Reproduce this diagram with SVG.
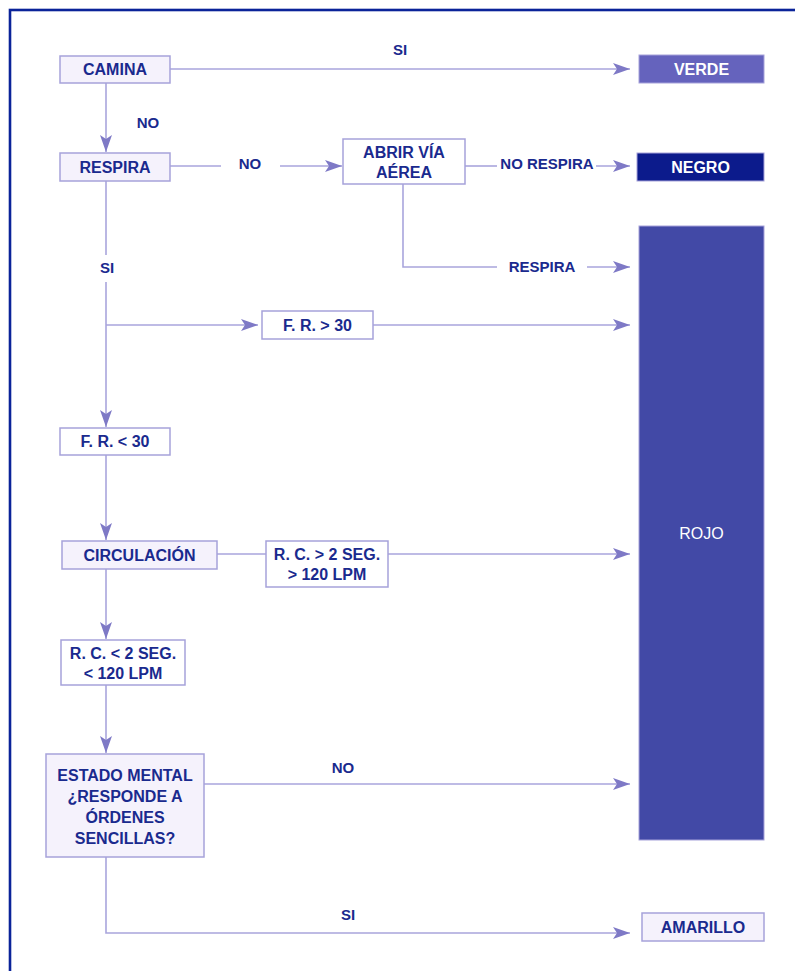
<svg xmlns="http://www.w3.org/2000/svg" width="795" height="971" viewBox="0 0 795 971">
<style>
.box{fill:#ffffff;stroke:#a6a2da;stroke-width:1.5}
.lav{fill:#f5f2fc}
.t{font-family:"Liberation Sans",Arial,sans-serif;font-weight:bold;font-size:16px;fill:#1a2a8e;text-anchor:middle}
.l{font-size:15px}
.w{fill:#ffffff}
.c{fill:none;stroke:#a9a5dc;stroke-width:1.6}
</style>
<defs>
<marker id="ah" markerUnits="userSpaceOnUse" markerWidth="18" markerHeight="12" refX="17" refY="6" orient="auto">
<path d="M0,0 L17,6 L0,12 L4,6 Z" fill="#7e79c6"/>
</marker>
</defs>
<rect x="10" y="10" width="800" height="980" fill="#ffffff" stroke="#0a2399" stroke-width="2.6"/>

<g id="connectors">
<path class="c" d="M170,69 H630" marker-end="url(#ah)"/>
<path class="c" d="M106,83 V152" marker-end="url(#ah)"/>
<path class="c" d="M170,166 H221"/>
<path class="c" d="M280,166 H342" marker-end="url(#ah)"/>
<path class="c" d="M465,166 H497"/>
<path class="c" d="M596,166 H630" marker-end="url(#ah)"/>
<path class="c" d="M403,184 V267 H497"/>
<path class="c" d="M587,267 H630" marker-end="url(#ah)"/>
<path class="c" d="M106,181 V255"/>
<path class="c" d="M106,282 V427" marker-end="url(#ah)"/>
<path class="c" d="M106,325 H258" marker-end="url(#ah)"/>
<path class="c" d="M373,325 H630" marker-end="url(#ah)"/>
<path class="c" d="M106,455 V540" marker-end="url(#ah)"/>
<path class="c" d="M217,554 H266"/>
<path class="c" d="M388,554 H630" marker-end="url(#ah)"/>
<path class="c" d="M106,569 V639" marker-end="url(#ah)"/>
<path class="c" d="M106,685 V753" marker-end="url(#ah)"/>
<path class="c" d="M204,784 H630" marker-end="url(#ah)"/>
<path class="c" d="M106,857 V933 H630" marker-end="url(#ah)"/>
<text class="t l" x="400" y="55">SI</text>
<text class="t l" x="148" y="128">NO</text>
<text class="t l" x="250" y="169">NO</text>
<text class="t l" x="547" y="169">NO RESPIRA</text>
<text class="t l" x="542" y="272">RESPIRA</text>
<text class="t l" x="107" y="273">SI</text>
<text class="t l" x="343" y="773">NO</text>
<text class="t l" x="348" y="920">SI</text>
</g>

<g id="camina"><rect class="box lav" x="60" y="56" width="110" height="27"/><text class="t" x="115" y="75">CAMINA</text></g>
<g id="verde"><rect x="639" y="55" width="125" height="28" fill="#6563bd" stroke="#a6a2da" stroke-width="1"/><text class="t w" x="701.5" y="75">VERDE</text></g>
<g id="respira"><rect class="box lav" x="60" y="153" width="110" height="28"/><text class="t" x="115" y="173">RESPIRA</text></g>
<g id="abrir"><rect class="box" x="343" y="139" width="122" height="45"/><text class="t" x="404" y="158">ABRIR VÍA</text><text class="t" x="404" y="178">AÉREA</text></g>
<g id="negro"><rect x="637" y="153" width="127" height="28" fill="#0c1b8c" stroke="#a6a2da" stroke-width="1"/><text class="t w" x="700.5" y="173">NEGRO</text></g>
<g id="rojo"><rect x="639" y="226" width="125" height="614" fill="#4249a6" stroke="#a6a2da" stroke-width="1"/><text class="t w" x="701.5" y="539" style="font-weight:normal">ROJO</text></g>
<g id="fr-mayor"><rect class="box" x="262" y="311" width="111" height="28"/><text class="t" x="317.5" y="331">F. R. &gt; 30</text></g>
<g id="fr-menor"><rect class="box" x="60" y="428" width="110" height="27"/><text class="t" x="115" y="447">F. R. &lt; 30</text></g>
<g id="circulacion"><rect class="box lav" x="62" y="541" width="155" height="28"/><text class="t" x="139.5" y="561">CIRCULACIÓN</text></g>
<g id="rc-mayor"><rect class="box" x="266" y="541" width="122" height="46"/><text class="t" x="327" y="560">R. C. &gt; 2 SEG.</text><text class="t" x="327" y="580">&gt; 120 LPM</text></g>
<g id="rc-menor"><rect class="box" x="61" y="640" width="124" height="45"/><text class="t" x="123" y="659">R. C. &lt; 2 SEG.</text><text class="t" x="123" y="679">&lt; 120 LPM</text></g>
<g id="estado"><rect class="box lav" x="46" y="754" width="158" height="103"/><text class="t" x="125" y="781">ESTADO MENTAL</text><text class="t" x="125" y="802">¿RESPONDE A</text><text class="t" x="125" y="823">ÓRDENES</text><text class="t" x="125" y="844">SENCILLAS?</text></g>
<g id="amarillo"><rect class="box lav" x="642" y="913" width="122" height="28"/><text class="t" x="703" y="933">AMARILLO</text></g>
</svg>
